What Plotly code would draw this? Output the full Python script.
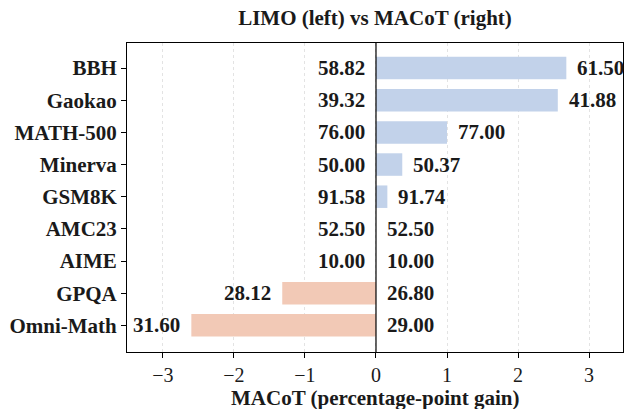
import plotly.graph_objects as go

benchmarks = ["BBH", "Gaokao", "MATH-500", "Minerva", "GSM8K", "AMC23", "AIME", "GPQA", "Omni-Math"]
limo = [58.82, 39.32, 76.00, 50.00, 91.58, 52.50, 10.00, 28.12, 31.60]
macot = [61.50, 41.88, 77.00, 50.37, 91.74, 52.50, 10.00, 26.80, 29.00]
tick_vals = [-3, -2, -1, 0, 1, 2, 3]
tick_text = ["\u22123", "\u22122", "\u22121", "0", "1", "2", "3"]

gain = [round(m - l, 2) for m, l in zip(macot, limo)]
colors = ["#c2d2ea" if g >= 0 else "#f2c9b6" for g in gain]

FONT = "Liberation Serif, Times New Roman, serif"
INK = "#1a1a1a"

fig = go.Figure()
fig.add_trace(go.Bar(
    y=benchmarks, x=gain, orientation="h",
    marker=dict(color=colors, line=dict(width=0)),
    width=0.7, hoverinfo="skip",
))

annotations = []
for b, g, l, m in zip(benchmarks, gain, limo, macot):
    left_x = min(g, 0)
    right_x = max(g, 0)
    annotations.append(dict(x=left_x, y=b, xref="x", yref="y", text=f"<b>{l:.2f}</b>",
                            showarrow=False, xanchor="right", xshift=-9,
                            font=dict(family=FONT, size=21, color=INK)))
    annotations.append(dict(x=right_x, y=b, xref="x", yref="y", text=f"<b>{m:.2f}</b>",
                            showarrow=False, xanchor="left", xshift=9,
                            font=dict(family=FONT, size=21, color=INK)))

annotations.append(dict(x=0.5, y=-0.148, xref="paper", yref="paper", showarrow=False,
                        text="<b>MACoT (percentage-point gain)</b>", xanchor="center",
                        yanchor="middle", font=dict(family=FONT, size=21, color=INK)))

fig.add_vline(x=0, line=dict(color="black", width=1.2))

fig.update_layout(
    width=636, height=409,
    margin=dict(l=127, r=13, t=43, b=57),
    plot_bgcolor="white", paper_bgcolor="white",
    showlegend=False,
    title=dict(text="<b>LIMO (left) vs MACoT (right)</b>", x=0.5, xref="paper",
               xanchor="center", y=0.956, yanchor="middle",
               font=dict(family=FONT, size=21, color=INK)),
    annotations=annotations,
)
fig.update_xaxes(
    range=[-3.506, 3.478], tickvals=tick_vals, ticktext=tick_text,
    showgrid=True, gridcolor="#e3e3e3", griddash="dot", gridwidth=1,
    zeroline=False, showline=True, linecolor="black", linewidth=1, mirror=True,
    ticks="outside", ticklen=5, tickcolor="black", automargin=False,
    tickfont=dict(family=FONT, size=20, color=INK),
)
fig.update_yaxes(
    range=[8.83, -0.78], categoryorder="array", categoryarray=benchmarks,
    showgrid=False, showline=True, linecolor="black", linewidth=1, mirror=True,
    ticks="outside", ticklen=5, tickcolor="black", automargin=False,
    tickfont=dict(family=FONT, size=21, color=INK),
    tickprefix="<b>", ticksuffix="</b>",
)

fig.write_html("out.html", config={"displayModeBar": False},
               post_script="document.body.style.margin='0';")
